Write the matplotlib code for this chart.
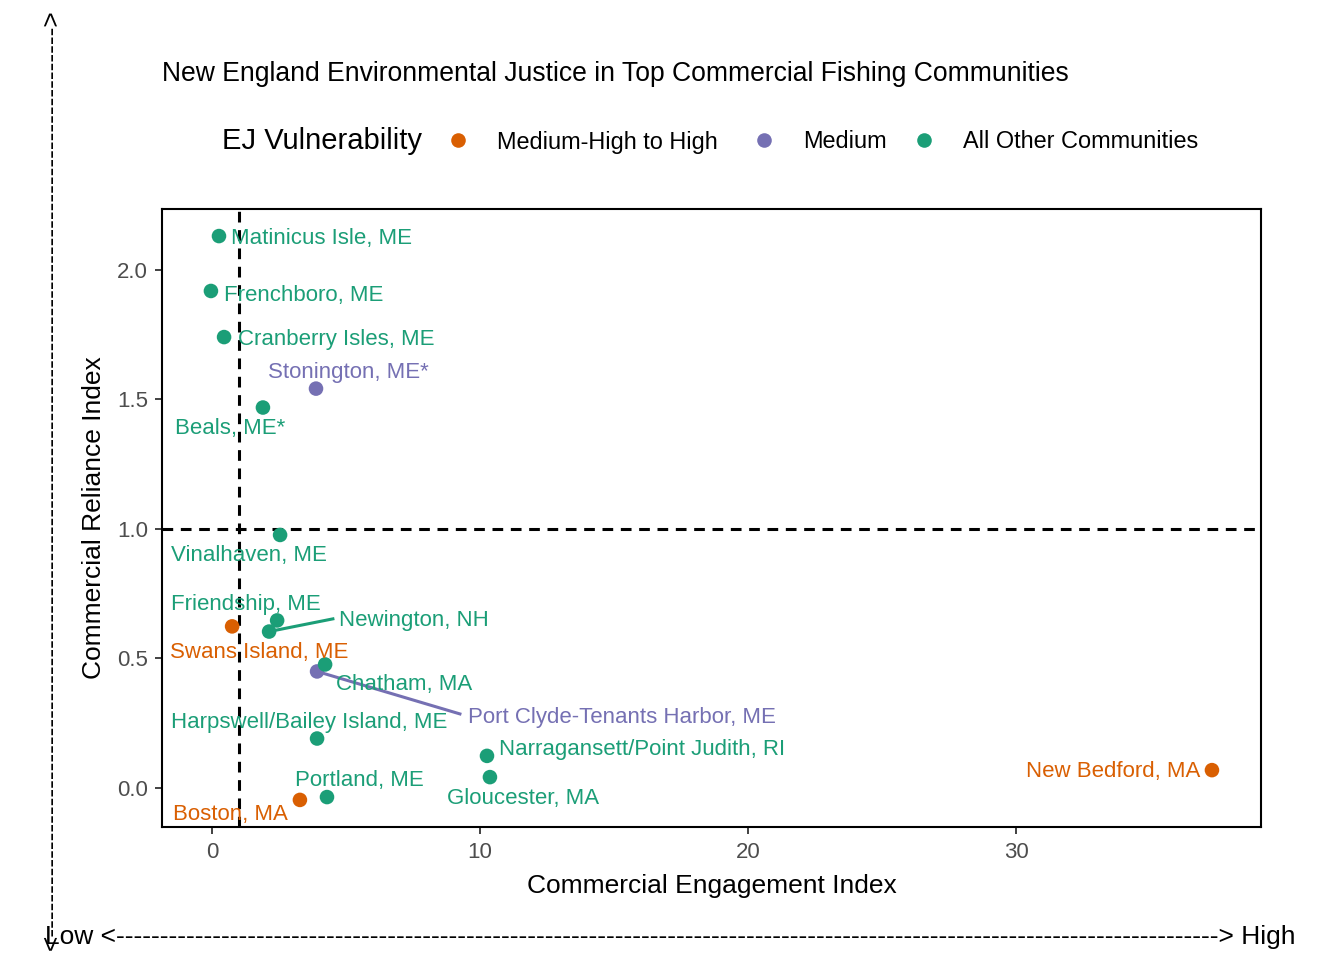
import matplotlib
matplotlib.use("Agg")
import matplotlib.pyplot as plt
from matplotlib.lines import Line2D

plt.rcParams['font.family'] = ['Liberation Sans', 'DejaVu Sans']

communities = ["Matinicus Isle, ME", "Frenchboro, ME", "Cranberry Isles, ME", "Stonington, ME*",
               "Beals, ME*", "Vinalhaven, ME", "Friendship, ME", "Newington, NH",
               "Swans Island, ME", "Chatham, MA", "Port Clyde-Tenants Harbor, ME",
               "Harpswell/Bailey Island, ME", "Narragansett/Point Judith, RI", "Gloucester, MA",
               "Portland, ME", "Boston, MA", "New Bedford, MA"]
engagement = [0.26, -0.04, 0.45, 3.88, 1.90, 2.54, 2.43, 2.13, 0.75, 4.22, 3.92,
              3.92, 10.26, 10.37, 4.29, 3.28, 37.31]
reliance = [2.131, 1.919, 1.741, 1.542, 1.469, 0.977, 0.647, 0.604, 0.624, 0.477, 0.450,
            0.191, 0.124, 0.042, -0.035, -0.046, 0.069]
ej_group = ["Other", "Other", "Other", "Medium", "Other", "Other", "Other", "Other",
            "High", "Other", "Medium", "Other", "Other", "Other", "Other", "High", "High"]

group_order = ["High", "Medium", "Other"]
group_labels = ["Medium-High to High", "Medium", "All Other Communities"]
colors = {"High": "#D95F02", "Medium": "#7570B3", "Other": "#1B9E77"}

# label placement (data coordinates, layout only)
label_pos = [(4.09, 2.121), (3.41, 1.901), (4.63, 1.731), (5.07, 1.604), (0.67, 1.388),
             (1.38, 0.897), (1.27, 0.708), (7.52, 0.647), (1.75, 0.523), (7.16, 0.399),
             (15.28, 0.272), (3.64, 0.253), (16.06, 0.148), (11.60, -0.041), (5.50, 0.029),
             (0.69, -0.103), (33.62, 0.063)]
segments = {"Newington, NH": (4.51, 0.653), "Port Clyde-Tenants Harbor, ME": (9.25, 0.286)}
legend_x_px = [444, 750, 910]

x_ticks = [0, 10, 20, 30]
y_ticks = [0.0, 0.5, 1.0, 1.5, 2.0]
x_threshold = 1.0
y_threshold = 1.0

fig = plt.figure(figsize=(13.44, 9.6), dpi=100)
ax = fig.add_axes([162/1344, 1-827/960, (1261-162)/1344, (827-209)/960])
ax.set_xlim(-1.866, 39.14)
ax.set_ylim(-0.1506, 2.2355)

ax.axvline(x_threshold, color='black', lw=2.2, ls=(0, (3.5, 2.5)), zorder=1)
ax.axhline(y_threshold, color='black', lw=2.2, ls=(0, (3.5, 2.5)), zorder=1)

for name, x, y, g in zip(communities, engagement, reliance, ej_group):
    if name in segments:
        lx, ly = segments[name]
        ax.plot([x, lx], [y, ly], color=colors[g], lw=2.2, zorder=2)

for g, lab in zip(group_order, group_labels):
    xs = [x for x, gg in zip(engagement, ej_group) if gg == g]
    ys = [y for y, gg in zip(reliance, ej_group) if gg == g]
    ax.scatter(xs, ys, s=110, color=colors[g], edgecolors='none', zorder=3, label=lab)

for name, (lx, ly), g in zip(communities, label_pos, ej_group):
    ax.text(lx, ly, name, color=colors[g], fontsize=16, ha='center', va='center', zorder=4)

ax.set_xticks(x_ticks)
ax.set_yticks(y_ticks)
ax.set_xticklabels([str(t) for t in x_ticks])
ax.set_yticklabels([f"{t:.1f}" for t in y_ticks])
ax.tick_params(axis='x', labelsize=16, colors='#333333', labelcolor='#4D4D4D',
               length=5, width=1.3, pad=6)
ax.tick_params(axis='y', labelsize=16, colors='#333333', labelcolor='#4D4D4D',
               length=5, width=1.3, pad=5)
for sp in ax.spines.values():
    sp.set_linewidth(1.5)
    sp.set_color('black')

ax.set_xlabel("Commercial Engagement Index", fontsize=19, labelpad=8)
ax.set_ylabel("Commercial Reliance Index", fontsize=19, labelpad=8)

fig.text(162/1344, 1-74/960, "New England Environmental Justice in Top Commercial Fishing Communities",
         fontsize=19.1, ha='left', va='center')

fig.text(222/1344, 1-141/960, "EJ Vulnerability", fontsize=21, ha='left', va='center')
for g, lab, lxp in zip(group_order, group_labels, legend_x_px):
    h = Line2D([], [], marker='o', ls='none', markersize=10.5, color=colors[g], markeredgewidth=0)
    fig.legend([h], [lab], loc='center left', bbox_to_anchor=(lxp/1344, 1-142/960),
               frameon=False, fontsize=16.9, handletextpad=1.06,
               handlelength=1.2, borderaxespad=0, borderpad=0)

fig.text(45/1344, 1-937/960, "Low <" + "-" * 126 + "> High", fontsize=19, ha='left', va='center')
fig.text(52/1344, 1-480/960, "<" + "-" * 104 + ">", fontsize=19, ha='center', va='center',
         rotation=90)

fig.savefig("out.png", dpi=100)
